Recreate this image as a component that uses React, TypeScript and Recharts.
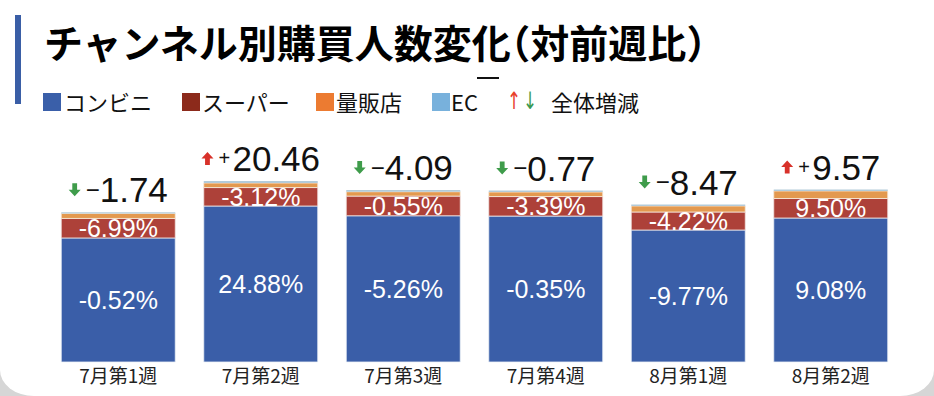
import React from 'react';
import { BarChart, Bar, XAxis, YAxis, LabelList } from 'recharts';

// weeks on the x axis
const weeks = ['7月第1週', '7月第2週', '7月第3週', '7月第4週', '8月第1週', '8月第2週'];

// stacked segment sizes (no y axis in the original)
const conviValues = [82.7, 104.0, 97.5, 97.3, 88.0, 96.0];
const superValues = [13.0, 12.3, 13.1, 13.0, 12.0, 13.0];
const massValues = [3.3, 3.0, 2.9, 3.0, 4.0, 5.0];
const ecValues = [0.8, 1.3, 1.1, 1.0, 1.0, 1.0];

// printed week-on-week changes
const conviChange = [-0.52, 24.88, -5.26, -0.35, -9.77, 9.08];
const superChange = [-6.99, -3.12, -0.55, -3.39, -4.22, 9.5];
const totalChange = [-1.74, 20.46, -4.09, -0.77, -8.47, 9.57];

const data = weeks.map((w, i) => ({
  week: w,
  convi: conviValues[i],
  super: superValues[i],
  mass: massValues[i],
  ec: ecValues[i],
  conviPct: conviChange[i],
  superPct: superChange[i],
  total: totalChange[i],
}));

const NUM_FONT = '"Liberation Sans", Arial, Helvetica, sans-serif';
const JP_FONT = '"Noto Sans CJK JP", "Noto Sans", sans-serif';

const box = (p: any) => {
  const vb = p.viewBox || {};
  return {
    x: p.x ?? vb.x,
    y: p.y ?? vb.y,
    width: p.width ?? vb.width,
    height: p.height ?? vb.height,
  };
};

function PctLabel(props: any) {
  const { x, y, width, height } = box(props);
  const v = Number(props.value);
  return (
    <text
      x={x + width / 2}
      y={y + height / 2}
      dy="0.36em"
      textAnchor="middle"
      fill="#fff"
      fontSize={25}
      fontFamily={NUM_FONT}
    >
      {v.toFixed(2)}%
    </text>
  );
}

function TopLabel(props: any) {
  const { x, y, width } = box(props);
  const v = Number(props.value);
  const up = v >= 0;
  const num = Math.abs(v).toFixed(2);
  const fs = 35;
  const numW = [...num].reduce((s, c) => s + (c === '.' ? 0.278 : 0.556) * fs, 0);
  const total = 31 + numW;
  const x0 = x + width / 2 - total / 2;
  const base = y - 10;
  const mid = base - 12.5;
  const arrow = up
    ? `M${x0 + 6},${mid - 6.5} L${x0 + 12},${mid} L${x0 + 8.4},${mid} L${x0 + 8.4},${mid + 6.5} L${x0 + 3.6},${mid + 6.5} L${x0 + 3.6},${mid} L${x0},${mid} Z`
    : `M${x0 + 6},${mid + 6.5} L${x0 + 12},${mid} L${x0 + 8.4},${mid} L${x0 + 8.4},${mid - 6.5} L${x0 + 3.6},${mid - 6.5} L${x0 + 3.6},${mid} L${x0},${mid} Z`;
  return (
    <g>
      <path d={arrow} fill={up ? '#d8312a' : '#3f9c4b'} />
      <text
        x={x0 + 17}
        y={mid + (up ? 6.8 : 8)}
        fontSize={up ? 20 : 24}
        fontFamily={NUM_FONT}
        fill="#111"
      >
        {up ? '+' : '\u2212'}
      </text>
      <text x={x0 + 31} y={base} fontSize={fs} fontFamily={NUM_FONT} fill="#111">
        {num}
      </text>
    </g>
  );
}

const legendItems = [
  { label: 'コンビニ', color: '#3a5fa9', sq: 43, tx: 64 },
  { label: 'スーパー', color: '#8c2a1b', sq: 182, tx: 202 },
  { label: '量販店', color: '#ec7b31', sq: 316, tx: 336 },
  { label: 'EC', color: '#78b1dc', sq: 432, tx: 451 },
];

const legendText: React.CSSProperties = {
  position: 'absolute',
  top: 90,
  fontSize: 22,
  lineHeight: '22px',
  fontFamily: JP_FONT,
  color: '#111',
  whiteSpace: 'nowrap',
};

const arrowText: React.CSSProperties = {
  ...legendText,
  top: 89,
  fontSize: 24,
  lineHeight: '24px',
  fontFamily: '"DejaVu Sans", sans-serif',
  transform: 'scaleX(0.7)',
  transformOrigin: 'left center',
};

export default function App() {
  return (
    <div
      style={{
        position: 'absolute',
        left: 0,
        top: 0,
        width: 934,
        height: 396,
        background: '#d6d6d6',
        overflow: 'hidden',
      }}
    >
      <div
        style={{
          position: 'absolute',
          inset: 0,
          background: '#fff',
          borderBottomLeftRadius: '34px 26px',
          borderBottomRightRadius: '34px 26px',
        }}
      >
        <BarChart
          width={934}
          height={396}
          data={data}
          margin={{ top: 152, right: 32, left: 47, bottom: 0 }}
          barCategoryGap="10%"
        >
          <XAxis
            dataKey="week"
            height={34}
            axisLine={false}
            tickLine={false}
            interval={0}
            tick={{ fontSize: 19, fill: '#222', fontFamily: JP_FONT }}
          />
          <YAxis hide domain={[0, 140]} />
          <Bar dataKey="convi" stackId="a" fill="#3a5ea8" stroke="#eef2f8" strokeWidth={0.8} isAnimationActive={false}>
            <LabelList dataKey="conviPct" content={(p: any) => <PctLabel {...p} />} />
          </Bar>
          <Bar dataKey="super" stackId="a" fill="#ad4139" stroke="#f3e4e2" strokeWidth={0.8} isAnimationActive={false}>
            <LabelList dataKey="superPct" content={(p: any) => <PctLabel {...p} />} />
          </Bar>
          <Bar dataKey="mass" stackId="a" fill="#e3994f" stroke="#f7eadc" strokeWidth={0.8} isAnimationActive={false} />
          <Bar dataKey="ec" stackId="a" fill="#b3cbd9" isAnimationActive={false}>
            <LabelList dataKey="total" content={(p: any) => <TopLabel {...p} />} />
          </Bar>
        </BarChart>

        <div style={{ position: 'absolute', left: 15, top: 15, width: 6, height: 89, background: '#3a5ea6' }} />
        <div
          style={{
            position: 'absolute',
            left: 44,
            top: 22,
            fontSize: 39,
            lineHeight: '39px',
            fontWeight: 700,
            fontFamily: JP_FONT,
            color: '#000',
            whiteSpace: 'nowrap',
          }}
        >
          チャンネル別購買人数変化
          <span style={{ fontFeatureSettings: '"halt"' }}>（</span>
          対前週比
          <span style={{ fontFeatureSettings: '"halt"' }}>）</span>
        </div>

        {legendItems.map((it) => (
          <React.Fragment key={it.label}>
            <div style={{ position: 'absolute', left: it.sq, top: 93, width: 18, height: 18, background: it.color }} />
            <div style={{ ...legendText, left: it.tx }}>{it.label}</div>
          </React.Fragment>
        ))}
        <div style={{ position: 'absolute', left: 477, top: 77, width: 22, height: 1.5, background: '#111' }} />
        <div style={{ ...arrowText, left: 507, color: '#e8402a' }}>↑</div>
        <div style={{ ...arrowText, left: 523, color: '#3a9a50' }}>↓</div>
        <div style={{ ...legendText, left: 551 }}>全体増減</div>
      </div>
    </div>
  );
}
